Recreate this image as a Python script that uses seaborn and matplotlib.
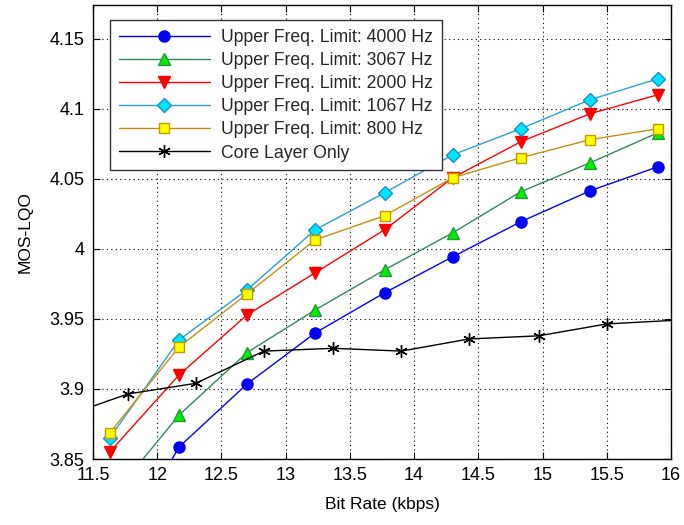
import matplotlib
matplotlib.use("Agg")
import matplotlib.pyplot as plt
import seaborn as sns
import numpy as np
import pandas as pd

# ---- data ----
rates = [11.63, 12.17, 12.70, 13.23, 13.77, 14.30, 14.83, 15.37, 15.90]
mos_4000 = [3.772, 3.8586, 3.9036, 3.940, 3.9686, 3.9943, 4.0193, 4.0414, 4.0586]
mos_3067 = [3.821, 3.8814, 3.926, 3.9564, 3.985, 4.0114, 4.0407, 4.0614, 4.0829]
mos_2000 = [3.855, 3.910, 3.9529, 3.9829, 4.0136, 4.0507, 4.0764, 4.0964, 4.110]
mos_1067 = [3.865, 3.935, 3.9707, 4.0136, 4.040, 4.0671, 4.0857, 4.1064, 4.1214]
mos_800 = [3.8686, 3.930, 3.9679, 4.0064, 4.0236, 4.0507, 4.065, 4.0779, 4.0857]
core_rates = [11.23, 11.77, 12.30, 12.83, 13.37, 13.90, 14.43, 14.97, 15.50, 16.03]
mos_core = [3.879, 3.8964, 3.904, 3.927, 3.929, 3.927, 3.9357, 3.9379, 3.9464, 3.9490]

labels = ["Upper Freq. Limit: 4000 Hz", "Upper Freq. Limit: 3067 Hz",
          "Upper Freq. Limit: 2000 Hz", "Upper Freq. Limit: 1067 Hz",
          "Upper Freq. Limit: 800 Hz", "Core Layer Only"]
xticks = [11.5, 12, 12.5, 13, 13.5, 14, 14.5, 15, 15.5, 16]
yticks = [3.85, 3.9, 3.95, 4.0, 4.05, 4.1, 4.15]
ytick_labels = ["3.85", "3.9", "3.95", "4", "4.05", "4.1", "4.15"]
xtick_labels = ["11.5", "12", "12.5", "13", "13.5", "14", "14.5", "15", "15.5", "16"]

sns.set_theme(style="white")
plt.rcParams['font.family'] = ['Liberation Sans', 'DejaVu Sans']

fig = plt.figure(figsize=(6.84, 5.25), dpi=100)
ax = fig.add_axes([0.136, 0.1257, 0.845, 0.8648])

styles = [
    dict(color="#0000ff", marker="o", markerfacecolor="#0000ff", markeredgecolor="#0000ff", markersize=8),
    dict(color="#2e8b57", marker="^", markerfacecolor="#00ee00", markeredgecolor="#1f9a3a", markersize=9),
    dict(color="#ff0000", marker="v", markerfacecolor="#ff0000", markeredgecolor="#ff0000", markersize=9),
    dict(color="#2a9fd6", marker="D", markerfacecolor="#00e5ff", markeredgecolor="#1a90c8", markersize=7),
    dict(color="#c8900a", marker="s", markerfacecolor="#ffff00", markeredgecolor="#c89600", markersize=7.5),
    dict(color="#000000", marker=(6, 2, 0), markerfacecolor="#000000", markeredgecolor="#000000", markersize=9,
         markevery=list(range(1, 9))),
]
series = [(rates, mos_4000), (rates, mos_3067), (rates, mos_2000),
          (rates, mos_1067), (rates, mos_800), (core_rates, mos_core)]

for (xs, ys), lab, st in zip(series, labels, styles):
    df = pd.DataFrame({"x": xs, "y": ys})
    sns.lineplot(data=df, x="x", y="y", ax=ax, label=lab, linewidth=1.0,
                 estimator=None, sort=False, markeredgewidth=1.0, **st)

ax.set_xlim(11.5, 16)
ax.set_ylim(3.85, 4.174)
ax.set_xticks(xticks)
ax.set_xticklabels(xtick_labels)
ax.set_yticks(yticks)
ax.set_yticklabels(ytick_labels)
ax.tick_params(axis="both", which="both", direction="in", length=5, width=0.8,
               top=True, right=True, bottom=True, left=True, labelsize=13,
               colors="black", pad=6)
ax.grid(True, linestyle=(0, (1, 3)), color="black", linewidth=0.8)
for sp in ax.spines.values():
    sp.set_color("black")
    sp.set_linewidth(1.0)
    sp.set_visible(True)

ax.set_xlabel("Bit Rate (kbps)", fontsize=12.5, color="black", labelpad=9)
ax.set_ylabel("MOS-LQO", fontsize=12.5, color="black", labelpad=12)

leg = ax.legend(loc="upper left", bbox_to_anchor=(0.029, 0.967), fontsize=12.7,
                handlelength=5.2, handletextpad=0.6, labelspacing=0.35,
                borderpad=0.5, frameon=True, fancybox=False, framealpha=1.0,
                borderaxespad=0)
leg.get_frame().set_edgecolor("#333333")
leg.get_frame().set_linewidth(1.0)

fig.savefig("out.png", dpi=100)
